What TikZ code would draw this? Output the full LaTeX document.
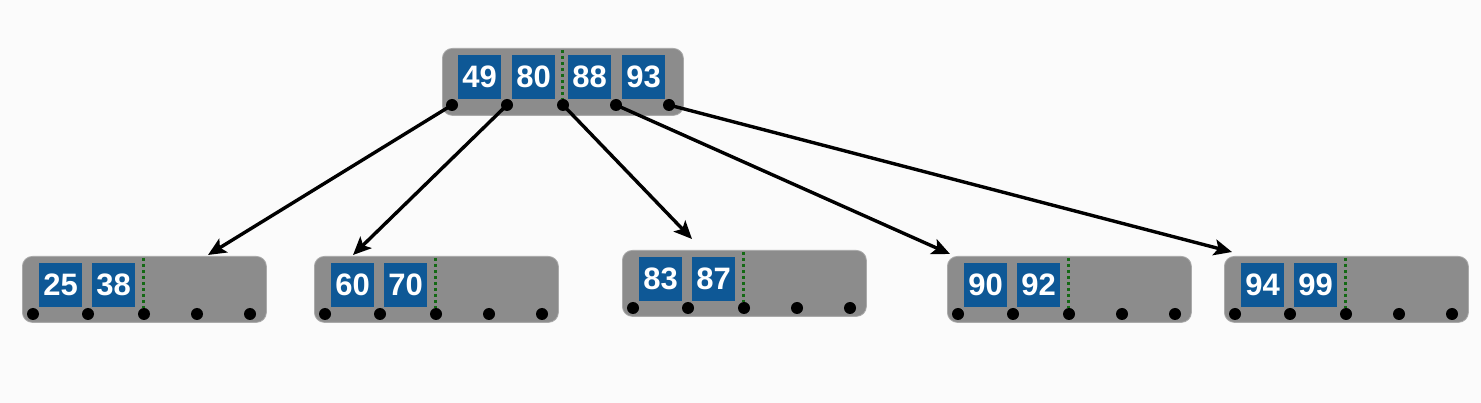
\documentclass[tikz,border=0pt]{standalone}
\usepackage{fontspec}
\setmainfont{Liberation Sans}
\usetikzlibrary{arrows.meta,calc}
\definecolor{nodegray}{RGB}{140,140,140}
\definecolor{edgegray}{RGB}{170,170,170}
\definecolor{keyblue}{RGB}{14,88,150}
\definecolor{ptrgreen}{RGB}{20,105,20}
\definecolor{bg}{RGB}{251,251,251}
\tikzset{
  page/.style={draw=edgegray, fill=nodegray, rounded corners=10pt, line width=0.8pt,
    minimum width=244pt, minimum height=66pt, inner sep=0pt},
  key/.style={fill=keyblue, minimum width=43pt, minimum height=44pt, inner sep=0pt,
    text=white, font=\fontsize{31}{31}\selectfont\bfseries},
  ptr/.style={circle, fill=black, minimum size=12pt, inner sep=0pt},
  link/.style={line width=3.4pt, -{Stealth[length=18pt,width=16pt,inset=4pt]}},
  sepline/.style={ptrgreen, line width=3pt, dash pattern=on 3pt off 3pt}
}
\newcommand\leafpage[5]{%
  \node[page, anchor=north west] (#1) at (#2,#3) {};
  \node[key, anchor=north west] (#1k1) at ($(#1.north west)+(17,7)$) {#4};
  \node[key, anchor=north west] (#1k2) at ($(#1.north west)+(70,7)$) {#5};
  \node[ptr] (#1p1) at ($(#1.north west)+(11,58)$) {};
  \node[ptr] (#1p2) at ($(#1.north west)+(66,58)$) {};
  \node[ptr] (#1p3) at ($(#1.north west)+(122,58)$) {};
  \node[ptr] (#1p4) at ($(#1.north west)+(175,58)$) {};
  \node[ptr] (#1p5) at ($(#1.north west)+(228,58)$) {};
  \coordinate (#1s) at ($(#1.north west)+(121,2)$);
  \draw[sepline] (#1s) -- (#1p3.north -| #1s);
}
\begin{document}
\begin{tikzpicture}[x=1pt,y=-1pt]
\fill[bg] (0,0) rectangle (1481,403);
\useasboundingbox (0,0) rectangle (1481,403);
% root page
\node[page, anchor=north west, minimum width=241pt, minimum height=67pt] (root) at (442,48) {};
\node[key, anchor=north west] (rk1) at ($(root.north west)+(16,7)$) {49};
\node[key, anchor=north west] (rk2) at ($(root.north west)+(70,7)$) {80};
\node[key, anchor=north west] (rk3) at ($(root.north west)+(126,7)$) {88};
\node[key, anchor=north west] (rk4) at ($(root.north west)+(180,7)$) {93};
\node[ptr] (rp1) at ($(root.north west)+(10,57)$) {};
\node[ptr] (rp2) at ($(root.north west)+(65,57)$) {};
\node[ptr] (rp3) at ($(root.north west)+(121,57)$) {};
\node[ptr] (rp4) at ($(root.north west)+(174,57)$) {};
\node[ptr] (rp5) at ($(root.north west)+(227,57)$) {};
\coordinate (rs) at ($(root.north west)+(120,2)$);
\draw[sepline] (rs) -- (rp3.north -| rs);
% leaves
\leafpage{la}{22}{256}{25}{38}
\leafpage{lb}{314}{256}{60}{70}
\leafpage{lc}{622}{250}{83}{87}
\leafpage{ld}{947}{256}{90}{92}
\leafpage{le}{1224}{256}{94}{99}
% arrow ends
\coordinate (ea) at (208,255);
\coordinate (eb) at (353,255);
\coordinate (ec) at (692,239);
\coordinate (ed) at (950,254);
\coordinate (ee) at (1232,252);
\draw[link] (rp1.center) -- (ea);
\draw[link] (rp2.center) -- (eb);
\draw[link] (rp3.center) -- (ec);
\draw[link] (rp4.center) -- (ed);
\draw[link] (rp5.center) -- (ee);
\end{tikzpicture}
\end{document}
